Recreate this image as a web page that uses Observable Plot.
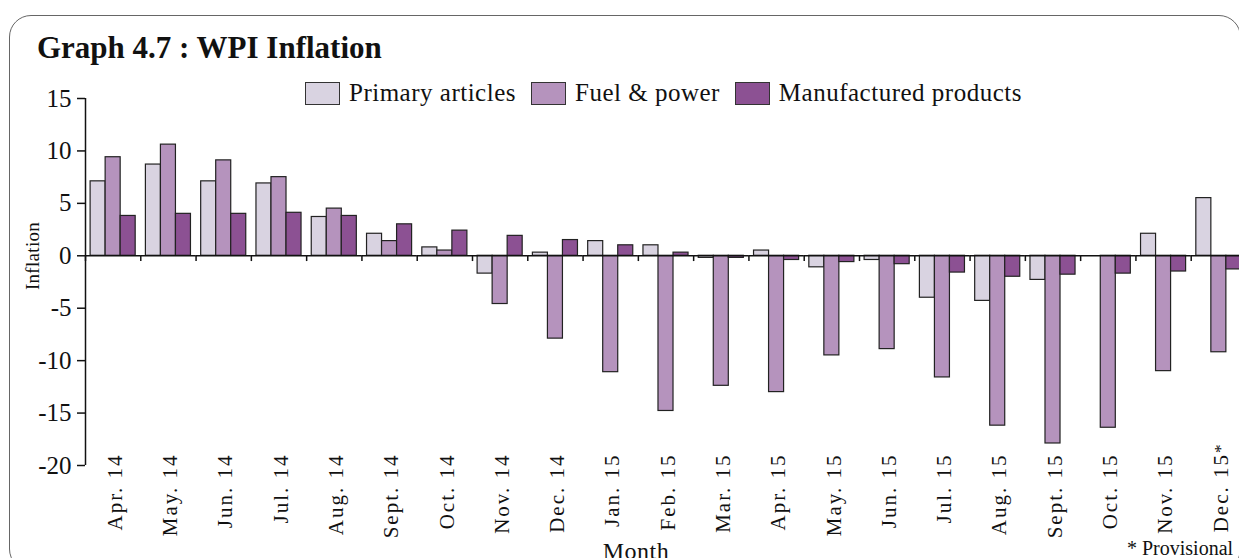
<!DOCTYPE html>
<html>
<head>
<meta charset="utf-8">
<script src="https://cdn.jsdelivr.net/npm/d3@7"></script>
<script src="https://cdn.jsdelivr.net/npm/@observablehq/plot@0.6"></script>
<style>
  html, body { margin: 0; padding: 0; background: #fff; }
  #wrap { position: relative; width: 1239px; height: 558px; overflow: hidden;
          font-family: "Liberation Serif", "Times New Roman", serif; color: #111; }
  #frame { position: absolute; left: 9px; top: 15px; width: 1232px; height: 556px;
           border: 1.5px solid #666; border-radius: 22px; box-sizing: border-box; }
  #chart { position: absolute; left: 0; top: 0; width: 1246px; }
  #chart svg { max-width: none !important; }
  #title { position: absolute; left: 37px; top: 30px; font-weight: bold; font-size: 31px; white-space: nowrap; }
  #legend { position: absolute; left: 305px; top: 79px; display: flex; align-items: center;
            font-size: 25px; letter-spacing: 0.5px; white-space: nowrap; }
  #legend .item { display: flex; align-items: center; margin-right: 15px; }
  #legend .sw { width: 35px; height: 23px; border: 1.3px solid #333; box-sizing: border-box; margin-right: 9px; }
  #ylabel { position: absolute; left: 33px; top: 256px; transform: translate(-50%, -50%) rotate(-90deg);
            font-size: 19px; white-space: nowrap; letter-spacing: 0.3px; }
  #xlabel { position: absolute; left: 636px; top: 538px; transform: translateX(-50%); font-size: 24px; white-space: nowrap; letter-spacing: 0.5px; }
  #note { position: absolute; left: 1127px; top: 537px; font-size: 20px; white-space: nowrap; }
  svg g[aria-label="fx-axis tick label"] text { letter-spacing: 2px; }
</style>
</head>
<body>
<div id="wrap">
  <div id="frame"></div>
  <div id="chart"></div>
  <div id="title">Graph 4.7 : WPI Inflation</div>
  <div id="legend"></div>
  <div id="ylabel">Inflation</div>
  <div id="xlabel">Month</div>
  <div id="note">* Provisional</div>
</div>
<script>
const months = ["Apr. 14", "May. 14", "Jun. 14", "Jul. 14", "Aug. 14", "Sept. 14", "Oct. 14",
  "Nov. 14", "Dec. 14", "Jan. 15", "Feb. 15", "Mar. 15", "Apr. 15", "May. 15", "Jun. 15",
  "Jul. 15", "Aug. 15", "Sept. 15", "Oct. 15", "Nov. 15", "Dec. 15*"];
const series = ["Primary articles", "Fuel & power", "Manufactured products"];
const primaryArticles = [7.1, 8.7, 7.1, 6.9, 3.7, 2.1, 0.8, -1.7, 0.3, 1.4, 1.0, -0.2, 0.5, -1.1, -0.4, -4.0, -4.3, -2.3, 0.0, 2.1, 5.5];
const fuelPower = [9.4, 10.6, 9.1, 7.5, 4.5, 1.4, 0.5, -4.6, -7.9, -11.1, -14.8, -12.4, -13.0, -9.5, -8.9, -11.6, -16.2, -17.9, -16.4, -11.0, -9.2];
const manufactured = [3.8, 4.0, 4.0, 4.1, 3.8, 3.0, 2.4, 1.9, 1.5, 1.0, 0.3, -0.2, -0.4, -0.6, -0.8, -1.6, -2.0, -1.8, -1.7, -1.5, -1.3];
const colors = ["#d9d3e1", "#b593bd", "#8c5193"];
const yTicks = [-20, -15, -10, -5, 0, 5, 10, 15];

const valuesBySeries = [primaryArticles, fuelPower, manufactured];
const data = months.flatMap((m, i) => series.map((s, j) => ({month: m, series: s, value: valuesBySeries[j][i]})));

// legend
const legend = document.getElementById("legend");
series.forEach((s, j) => {
  const item = document.createElement("div");
  item.className = "item";
  const sw = document.createElement("div");
  sw.className = "sw";
  sw.style.background = colors[j];
  const t = document.createElement("span");
  t.textContent = s;
  item.appendChild(sw); item.appendChild(t);
  legend.appendChild(item);
});

// layout (the plot runs a little past the right edge of the page, as in the original)
const plotWidth = 1246, marginLeft = 85, groupPadding = 0.34;
const groupStep = (plotWidth - marginLeft) / months.length;
const barStep = groupStep / (series.length + 2 * groupPadding);
const bandShift = -(groupPadding * barStep + barStep / 2); // band centre -> facet left edge

const chart = Plot.plot({
  width: plotWidth,
  height: 558,
  marginLeft,
  marginRight: 0,
  marginTop: 98,
  marginBottom: 93,
  style: {background: "none", maxWidth: "none", fontFamily: "'Liberation Serif', 'Times New Roman', serif", color: "#111"},
  fx: {domain: months, paddingInner: 0, paddingOuter: 0, round: false, axis: null, label: null},
  x: {domain: series, paddingInner: 0, paddingOuter: groupPadding, round: false, axis: null},
  y: {domain: [-20, 15], axis: null},
  color: {domain: series, range: colors},
  marks: [
    Plot.barY(data, {fx: "month", x: "series", y: "value", fill: "series", stroke: "#222", strokeWidth: 1.2}),
    Plot.ruleY([0], {stroke: "#111", strokeWidth: 1.5}),
    Plot.ruleX(months, {fx: d => d, x: () => series[0], y1: 0, y2: -0.55, dx: bandShift, stroke: "#111", strokeWidth: 1.5}),
    Plot.ruleX([months[0]], {fx: d => d, x: () => series[0], y1: -20, y2: 15, dx: bandShift, stroke: "#111", strokeWidth: 1.5}),
    Plot.axisY(yTicks, {anchor: "left", tickSize: 8, tickPadding: 6, fontSize: 25, tickFormat: d => String(d), label: null, stroke: "#111", strokeWidth: 1.5}),
    Plot.axisFx({anchor: "bottom", tickRotate: -90, tickSize: 0, tickPadding: 0, dy: -12, dx: 2, fontSize: 21, label: null})
  ]
});
document.getElementById("chart").appendChild(chart);

// let the provisional asterisk overhang, so "Dec. 15" lines up with the other labels
d3.select(chart).selectAll('g[aria-label="fx-axis tick label"] text')
  .filter(function() { return this.textContent.endsWith("*"); })
  .each(function() {
    const label = this.textContent;
    const t = d3.select(this).text(null);
    t.append("tspan").text(label.slice(0, -1));
    t.append("tspan").attr("font-size", 17).attr("dy", "-0.1em").text("*");
    t.attr("dx", 11);
  });
</script>
</body>
</html>
